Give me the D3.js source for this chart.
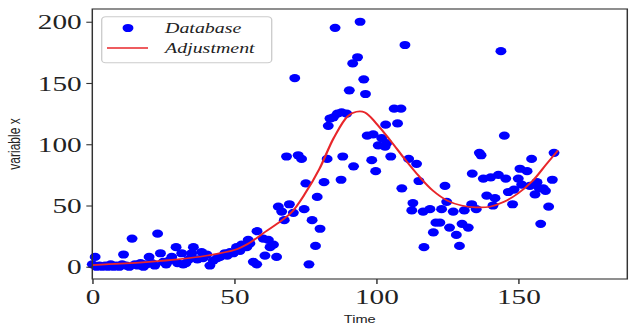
<!DOCTYPE html>
<html><head><meta charset="utf-8">
<script src="https://cdn.jsdelivr.net/npm/d3@7"></script>
<style>html,body{margin:0;padding:0;background:#fff;overflow:hidden}</style>
</head><body><div id="chart"></div>
<script>
const xTicks = [0, 50, 100, 150];
const yTicks = [0, 50, 100, 150, 200];
const seriesNames = ["Database", "Adjustment"];
const xLabel = "Time";
const yLabel = "variable x";

// scatter "Database"
const dbX = [0,1,1.5,2.5,3.5,4.5,5.5,6.5,7.5,8.5,9.5,10.5,11,12,13,14,15,16,17,18,19,20,21,22,23,24,25,26,27,28,29.5,30,31.5,32,33,34,35,35.6,37,38.5,39,40.3,41.4,42.6,44,45,46.7,47.5,48.5,49.6,50.8,52,52.6,54.4,54.9,55.5,
  56.7,57.9,58,60.2,60.8,62,62.6,63.8,64.9,65.5,66.7,67.6,68.4,69.4,70.8,71.3,72.5,73.7,74.6,75.2,76.3,77.4,78.6,79.2,80.2,81.6,82.7,83.1,83.7,84.9,85.5,86.3,87.6,87.8,88.2,89.6,90.5,91.7,92,93.4,94.3,95.6,96.2,96.8,98.4,98.9,99.8,100.7,101.9,103.1,103.3,103.7,105.1,106.3,107.5,108.7,109,110.1,111.4,112.5,112.9,114.2,115,116.5,116.8,118.9,120.1,121,122.4,123,124.2,124.8,125.8,127.1,128.2,129.3,130.2,131,132.4,133.6,133.8,135.2,136.3,136.9,137.7,138.9,140.3,141.1,141.8,143,143.9,145.1,145.6,146.5,148,148.5,150,150.6,151.2,153.1,154.1,154.7,155.9,156.6,157.4,157.9,158.8,159.6,160.7,162,162.6];
const dbY = [2,8,0,1,0,1,0,2,0,1,0,2,10,1,0,23,2,1,3,0,2,8,3,1,27,11,4,2,5,8,16,3,11,2,3,6,11,16,6,12,7,10,1,5,7,8,11,9,12,11,16,13,18,16,22,19,
  4,2,29,23,9,22,16,18,8,49,45,38,90,51,44,154,91,88,47,68,2,38,17,57,31,69,88,115,121,122,195,125,71,126,90,125,144,166,82,171,200,153,141,107,87,108,78,99,105,98,116,101,90,129,117,129,64,181,88,46,52,84,70,45,16,47,28,36,36,47,66,53,32,45,26,17,35,46,32,51,76,47,93,91,72,58,73,50,56,75,176,107,72,61,51,63,72,80,67,78,66,88,59,69,64,35,64,62,49,71,93];

// fitted curve "Adjustment"
const fitX = [0,10,20,30,40,50,55,60,65,70,75,80,85,90,93,96,100,105,110,115,120,125,130,135,140,145,150,155,160,164];
const fitY = [1.4,2.5,4,6,9,13.6,19,27,35,44,60,80,105,123,126.5,126,117,103,88,74,62,54,50,48.5,49,53,60,70,84,95];

const SX = 1.33, W = 632, H = 329, IW = W / SX;
const svg = d3.select('#chart').append('svg')
  .attr('width', W).attr('height', H)
  .attr('viewBox', `0 0 ${IW} ${H}`)
  .attr('preserveAspectRatio', 'none');

const L = 92.3 / SX, R = 627.3 / SX, T = 9, B = 279;
const x = d3.scaleLinear().domain([0, 188.4]).range([L, R]);
const y = d3.scaleLinear().domain([-10, 210.4]).range([B, T]);

// points
svg.append('g').selectAll('circle').data(dbX.map((d, i) => [d, dbY[i]])).join('circle')
  .attr('cx', d => x(d[0])).attr('cy', d => y(d[1])).attr('r', 4.1).attr('fill', '#0000ff');

// curve
const line = d3.line().x(d => x(d[0])).y(d => y(d[1])).curve(d3.curveCatmullRom);
svg.append('path').datum(fitX.map((d, i) => [d, fitY[i]]))
  .attr('d', line).attr('fill', 'none').attr('stroke', '#e8262a').attr('stroke-width', 1.7);

// frame
svg.append('rect').attr('x', L).attr('y', T).attr('width', R - L).attr('height', B - T)
  .attr('fill', 'none').attr('stroke', '#333').attr('stroke-width', 1.1);

const tickFont = 'Liberation Serif, DejaVu Serif, serif';
const ax = svg.append('g').attr('transform', `translate(0,${B})`)
  .call(d3.axisBottom(x).tickValues(xTicks).tickSize(5).tickPadding(4).tickFormat(d3.format('d')));
const ay = svg.append('g').attr('transform', `translate(${L},0)`)
  .call(d3.axisLeft(y).tickValues(yTicks).tickSize(4.5).tickPadding(3.5).tickFormat(d3.format('d')));
[ax, ay].forEach(g => {
  g.select('.domain').remove();
  g.selectAll('line').attr('stroke', '#333').attr('stroke-width', 1.1);
  g.selectAll('text').attr('font-family', tickFont).attr('font-size', 22).attr('fill', '#222');
});

// axis labels
svg.append('text').attr('x', (L + R) / 2).attr('y', 323).attr('text-anchor', 'middle')
  .attr('font-family', 'Liberation Sans, Arial, sans-serif').attr('font-size', 11).attr('fill', '#222').text(xLabel);
svg.append('text').attr('transform', `translate(${20 / SX},${144}) rotate(-90)`).attr('text-anchor', 'middle')
  .attr('font-family', 'Liberation Sans, Arial, sans-serif').attr('font-size', 12).attr('fill', '#222').text(yLabel);

// legend
const lg = svg.append('g');
lg.append('rect').attr('x', 101.7 / SX).attr('y', 16.7).attr('width', (271.7 - 101.7) / SX).attr('height', 46)
  .attr('rx', 3).attr('fill', '#fff').attr('fill-opacity', 0.85).attr('stroke', '#ccc').attr('stroke-width', 1);
lg.append('circle').attr('cx', 128 / SX).attr('cy', 28).attr('r', 4.1).attr('fill', '#0000ff');
lg.append('line').attr('x1', 107 / SX).attr('x2', 148 / SX).attr('y1', 48).attr('y2', 48)
  .attr('stroke', '#e8262a').attr('stroke-width', 1.7);
lg.selectAll('text.lt').data(seriesNames).join('text').attr('class', 'lt')
  .attr('x', 165 / SX).attr('y', (d, i) => 28 + i * 20).attr('dy', '0.35em')
  .attr('font-family', tickFont).attr('font-style', 'italic').attr('font-size', 15).attr('fill', '#222')
  .text(d => d);
</script></body></html>
